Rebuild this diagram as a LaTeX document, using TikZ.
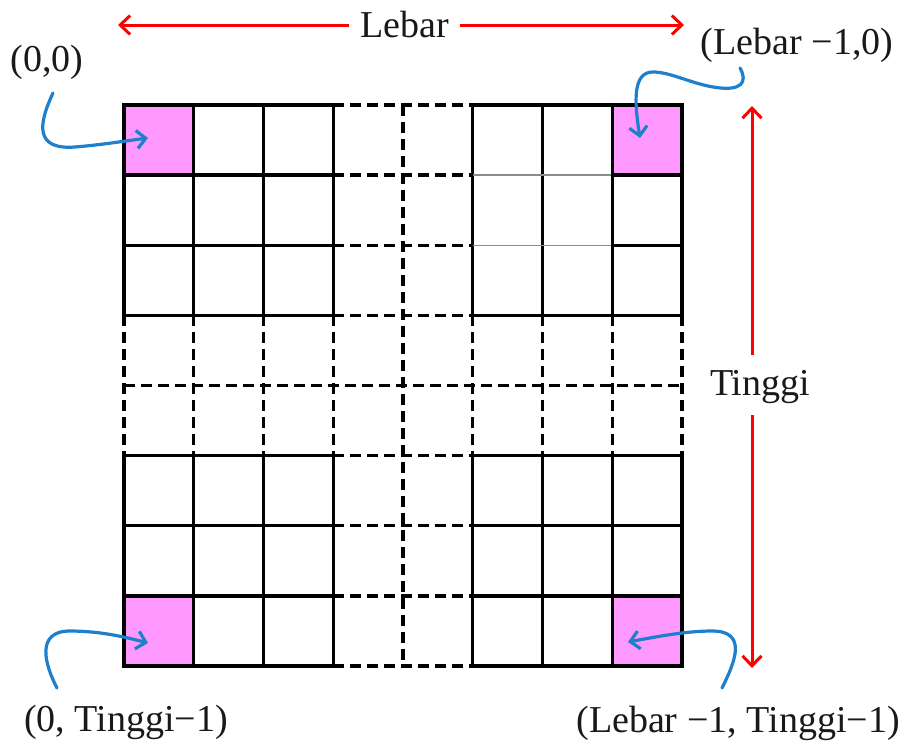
\documentclass[tikz,border=0pt]{standalone}
\usepackage{fontspec}
\setmainfont{Liberation Serif}
\usetikzlibrary{arrows.meta}
\definecolor{cellpink}{RGB}{255,153,255}
\definecolor{arrowblue}{RGB}{30,128,205}
\begin{document}
\begin{tikzpicture}[x=1pt,y=-1pt,
  gridline/.style={line width=3.4pt,black,line cap=rect},
  griddash/.style={line width=3.4pt,black,dash pattern=on 11pt off 6pt},
  thinline/.style={line width=1.5pt,black!45},
  dimarrow/.style={line width=3pt,red,-{Straight Barb[length=10pt,width=19pt]}},
  ptr/.style={line width=3.2pt,arrowblue,line cap=round,-{Straight Barb[length=9pt,width=18pt]}},
  lbl/.style={font=\fontsize{38}{40}\selectfont,inner sep=0pt,text=black!90},
  cellbox/.style={fill=cellpink,draw=none,minimum width=69.75pt,minimum height=70.125pt,inner sep=0pt,anchor=north west}]
\useasboundingbox (0,0) rectangle (901,747);
\fill[white] (0,0) rectangle (901,747);
% pink corner cells
\node[cellbox] (c00) at (124,105) {};
\node[cellbox] (cw0) at (612.25,105) {};
\node[cellbox] (c0h) at (124,595.875) {};
\node[cellbox] (cwh) at (612.25,595.875) {};
% vertical grid lines
\foreach \i in {0,1,2,3,5,6,7,8}{
  \pgfmathsetmacro\xx{124+69.75*\i}
  \draw[gridline] (\xx,105) -- (\xx,315.375);
  \draw[gridline] (\xx,455.625) -- (\xx,666);
  \draw[griddash] (\xx,315.375) -- (\xx,455.625);
}
\draw[griddash] (403,105) -- (403,666);
% horizontal grid lines
\foreach \j in {0,3,5,6,7,8}{
  \pgfmathsetmacro\yy{105+70.125*\j}
  \draw[gridline] (124,\yy) -- (333.25,\yy);
  \draw[griddash] (333.25,\yy) -- (472.75,\yy);
  \draw[gridline] (472.75,\yy) -- (682,\yy);
}
\foreach \j in {1,2}{
  \pgfmathsetmacro\yy{105+70.125*\j}
  \draw[gridline] (124,\yy) -- (333.25,\yy);
  \draw[griddash] (333.25,\yy) -- (472.75,\yy);
  \draw[thinline] (472.75,\yy) -- (612.25,\yy);
  \draw[gridline] (612.25,\yy) -- (682,\yy);
}
\draw[griddash] (124,385.5) -- (682,385.5);
% labels
\node[lbl] (lebar) at (405,25) {Lebar};
\node[lbl] (tinggi) at (760,387) {Tinggi};
\node[lbl] (p00) at (47,62) {(0,0)};
\node[lbl] (pw0) at (797,45) {(Lebar −1,0)};
\node[lbl] (p0h) at (126,722) {(0, Tinggi−1)};
\node[lbl] (pwh) at (738,723) {(Lebar −1, Tinggi−1)};
% dimension arrows
\coordinate (lebarL) at (118,25);
\coordinate (lebarR) at (684,25);
\coordinate (tinggiT) at (752,106);
\coordinate (tinggiB) at (752,668);
\draw[dimarrow] ([xshift=-12pt]lebar.west) -- (lebarL);
\draw[dimarrow] ([xshift=10pt]lebar.east) -- (lebarR);
\draw[dimarrow] (752,355) -- (tinggiT);
\draw[dimarrow] (752,415) -- (tinggiB);
% pointer arrows
\coordinate (s00) at (53,93);
\coordinate (t00) at (148,138);
\draw[ptr] (s00) .. controls (38,125) and (35,150) .. (75,147) .. controls (100,145) and (125,141) .. (t00);
\coordinate (sw0) at (740,68);
\coordinate (tw0) at (640,138);
\draw[ptr] (sw0) .. controls (748,82) and (742,92) .. (713,87) .. controls (690,83) and (670,72) .. (653,72) .. controls (633,72) and (634,100) .. (tw0);
\coordinate (s0h) at (57,688);
\coordinate (t0h) at (148,643);
\draw[ptr] (s0h) .. controls (45,665) and (35,631) .. (70,631) .. controls (100,631) and (125,637) .. (t0h);
\coordinate (swh) at (722,688);
\coordinate (twh) at (628,642);
\draw[ptr] (swh) .. controls (735,662) and (748,631) .. (712,631) .. controls (685,631) and (655,637) .. (twh);
\end{tikzpicture}
\end{document}
